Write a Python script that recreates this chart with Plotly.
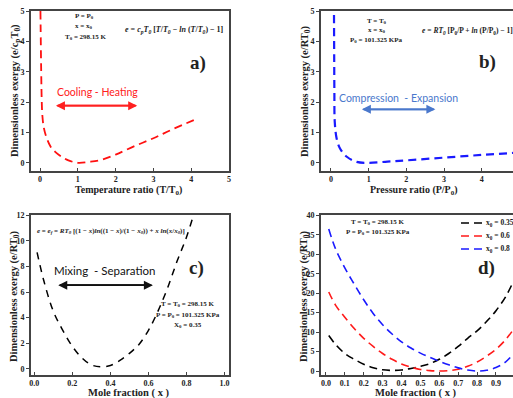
import plotly.graph_objects as go

# ---------------- data ----------------
a_x = [0.01, 0.03, 0.045, 0.06, 0.1, 0.18, 0.28, 0.4, 0.57, 0.75, 1.0, 1.3, 1.6, 2.0, 2.5, 3.0, 3.5, 4.13]
a_y = [5.0, 3.0, 2.0, 1.57, 1.15, 0.8, 0.53, 0.36, 0.2, 0.08, 0.0, 0.03, 0.09, 0.27, 0.55, 0.81, 1.1, 1.44]

b_x = [0.08, 0.085, 0.09, 0.1, 0.15, 0.24, 0.42, 0.68, 1.0, 1.5, 2.0, 3.0, 4.0, 4.9]
b_y = [4.87, 3.5, 2.3, 1.35, 0.8, 0.47, 0.2, 0.03, 0.0, 0.04, 0.08, 0.17, 0.26, 0.33]

mole_x = [0.015, 0.05, 0.1, 0.15, 0.2, 0.25, 0.3, 0.35, 0.4, 0.45, 0.5, 0.55, 0.6, 0.65, 0.7, 0.75, 0.8, 0.85, 0.9, 0.95, 0.99]
x035_y = [9.1, 6.9, 4.5, 3.0, 1.75, 0.85, 0.3, 0.15, 0.25, 0.65, 1.2, 1.9, 3.0, 4.5, 6.3, 8.4, 10.3, 12.7, 15.5, 19.0, 22.8]
x06_y = [20.3, 17.0, 13.8, 10.9, 8.4, 6.3, 4.5, 3.0, 1.8, 1.0, 0.4, 0.1, 0.0, 0.1, 0.45, 1.2, 2.3, 3.8, 5.6, 8.0, 10.5]
x08_y = [36.5, 31.5, 26.5, 22.3, 18.3, 14.8, 11.9, 9.5, 7.5, 5.9, 4.6, 3.5, 2.5, 1.6, 0.8, 0.25, 0.0, 0.2, 0.9, 2.3, 4.3]

legend_names = ["x<sub>0</sub> = 0.35", "x<sub>0</sub> = 0.6", "x<sub>0</sub> = 0.8"]
d_colors = ["black", "#ff1a1a", "#1a1aff"]

W, H = 513, 398
def px(v):
    return v / W
def py(v):
    return 1 - v / H

SERIF = "Liberation Serif"
SANS = "Lato"
AX_COL = "#444444"

fig = go.Figure()

# panel a
fig.add_trace(go.Scatter(x=a_x, y=a_y, mode="lines", line=dict(color="#ff1010", width=1.8, dash="8px,5px", shape="spline"),
                         xaxis="x", yaxis="y", showlegend=False))
# panel b
fig.add_trace(go.Scatter(x=b_x, y=b_y, mode="lines", line=dict(color="#1a1aff", width=2.2, dash="8px,5px", shape="spline"),
                         xaxis="x2", yaxis="y2", showlegend=False))
# panel c
fig.add_trace(go.Scatter(x=mole_x, y=x035_y, mode="lines", line=dict(color="black", width=1.5, dash="7px,6px", shape="spline"),
                         xaxis="x3", yaxis="y3", showlegend=False))
# panel d
for yy, col, nm in zip([x035_y, x06_y, x08_y], d_colors, legend_names):
    fig.add_trace(go.Scatter(x=mole_x, y=yy, mode="lines", name=nm,
                             line=dict(color=col, width=1.6, dash="8px,5px", shape="spline"),
                             xaxis="x4", yaxis="y4", showlegend=False))

tickfont = dict(family=SERIF, size=8, color="#222", weight="bold")
def axis(dom, rng, dtick, mirror, fmt=None, anchor=None, ticks="outside"):
    d = dict(domain=dom, range=rng, dtick=dtick, tick0=0, showgrid=False, zeroline=False,
             showline=True, linecolor=AX_COL, linewidth=1.6, mirror=mirror,
             ticks=ticks, ticklen=3, tickwidth=1, tickcolor=AX_COL, tickfont=tickfont, anchor=anchor)
    if fmt:
        d["tickformat"] = fmt
    return d

xa = [px(31), px(229)]
xb = [px(321), 1.0]
ytop = [py(171), py(11)]
ybot = [py(374.7), py(215.3)]

fig.update_layout(
    width=W, height=H, margin=dict(l=0, r=0, t=0, b=0, autoexpand=False),
    plot_bgcolor="white", paper_bgcolor="white", showlegend=False,
    xaxis=axis(xa, [-0.24, 5.0], 1, True, anchor="y", ticks="inside"),
    yaxis=axis(ytop, [-0.27, 5.0], 1, True, anchor="x"),
    xaxis2=axis(xb, [-0.265, 4.83], 1, True, anchor="y2", ticks="inside"),
    yaxis2=axis(ytop, [-0.27, 5.0], 1, False, anchor="x2"),
    xaxis3=axis(xa, [-0.017, 1.023], 0.2, True, ".1f", anchor="y3", ticks="inside"),
    yaxis3=axis(ybot, [-0.47, 12], 2, True, anchor="x3"),
    xaxis4=axis(xb, [-0.026, 0.99], 0.1, True, ".1f", anchor="y4", ticks="inside"),
    yaxis4=axis(ybot, [-0.95, 40], 5, False, anchor="x4"),
)

ann = []
def note(x, y, text, size=7, family=SERIF, color="#222", bold=True, angle=0, xanchor="center"):
    ann.append(dict(x=px(x), y=py(y), xref="paper", yref="paper", text=text, showarrow=False,
                    font=dict(family=family, size=size, color=color, weight="bold" if bold else "normal"),
                    textangle=angle, xanchor=xanchor, yanchor="middle"))

# axis titles
note(128, 190.5, "Temperature ratio (T/T<sub>0</sub>)", size=10)
note(16, 91, "Dimensionless exergy (e/c<sub>p</sub>T<sub>0</sub>)", size=10.5, angle=-90)
note(414, 190.5, "Pressure ratio (P/P<sub>0</sub>)", size=10)
note(306, 91, "Dimensionless exergy (e/RT<sub>0</sub>)", size=10.5, angle=-90)
note(129, 393, "Mole fraction ( x )", size=10.5)
note(14, 296, "Dimensionless exergy (e/RT<sub>0</sub>)", size=10.5, angle=-90)
note(416, 393, "Mole fraction ( x )", size=10.5)
note(304, 296, "Dimensionless exergy (e/RT<sub>0</sub>)", size=10.5, angle=-90)

# panel a texts
note(84, 16, "P = P<sub>0</sub>")
note(84, 26, "x = x<sub>0</sub>")
note(86, 37, "T<sub>0</sub> = 298.15 K")
note(174, 30, "<i>e</i> = <i>c<sub>p</sub>T<sub>0</sub></i> [<i>T</i>/<i>T<sub>0</sub></i> − <i>ln</i> (<i>T</i>/<i>T<sub>0</sub></i>) − 1]", size=8)
note(198, 63, "a)", size=19)
note(97, 92, "Cooling - Heating", size=10.5, family=SANS, color="#ff2020", bold=False)

# panel b texts
note(377, 21, "T = T<sub>0</sub>")
note(377, 30, "x = x<sub>0</sub>")
note(376, 39.5, "P<sub>0</sub> = 101.325 KPa")
note(420, 31, "<i>e</i> = <i>RT<sub>0</sub></i> [P<sub>0</sub>/P + <i>ln</i> (P/P<sub>0</sub>) − 1]", size=7.5, xanchor="left")
note(487, 62, "b)", size=19)
note(398, 98, "Compression  - Expansion", size=10.5, family=SANS, color="#4a78cc", bold=False)

# panel c texts
note(111, 231, "<i>e</i> = <i>e<sub>f</sub></i> = <i>RT<sub>0</sub></i> [(1 − <i>x</i>)<i>ln</i>((1 − <i>x</i>)/(1 − <i>x<sub>0</sub></i>)) + <i>x ln</i>(<i>x</i>/<i>x<sub>0</sub></i>)]", size=7)
note(105, 270, "Mixing  - Separation", size=11.5, family=SANS, color="#111", bold=False)
note(196, 268, "c)", size=19)
note(188, 304, "T = T<sub>0</sub> = 298.15 K")
note(188, 314.5, "P = P<sub>0</sub> = 101.325 KPa")
note(188, 325, "X<sub>0</sub> = 0.35")

# panel d texts
note(378, 222, "T = T<sub>0</sub> = 298.15 K")
note(378, 232.5, "P = P<sub>0</sub> = 101.325 KPa")
note(486, 268, "d)", size=19)

# legend of panel d (drawn by hand to get the tight spacing)
shapes = []
for i, (nm, col) in enumerate(zip(legend_names, d_colors)):
    yrow = 223 + 13 * i
    shapes.append(dict(type="line", xref="paper", yref="paper", x0=px(461), x1=px(482), y0=py(yrow), y1=py(yrow),
                       line=dict(color=col, width=1.6, dash="8px,5px")))
    note(484, yrow, nm, size=7.5, xanchor="left")

# arrows (data coordinates)
def darrow(xr, yr, x0, x1, y, col):
    for xs, xe in [(x0, x1), (x1, x0)]:
        ann.append(dict(x=xe, y=y, ax=xs, ay=y, xref=xr, yref=yr, axref=xr, ayref=yr, text="",
                        showarrow=True, arrowhead=2, arrowsize=1, arrowwidth=1.8, arrowcolor=col))
darrow("x", "y", 0.42, 2.57, 1.88, "#ff2020")
darrow("x2", "y2", 0.82, 2.77, 1.76, "#4a78cc")
darrow("x3", "y3", 0.126, 0.623, 6.53, "#111")

fig.update_layout(annotations=ann, shapes=shapes)
fig.write_html("out.html")
